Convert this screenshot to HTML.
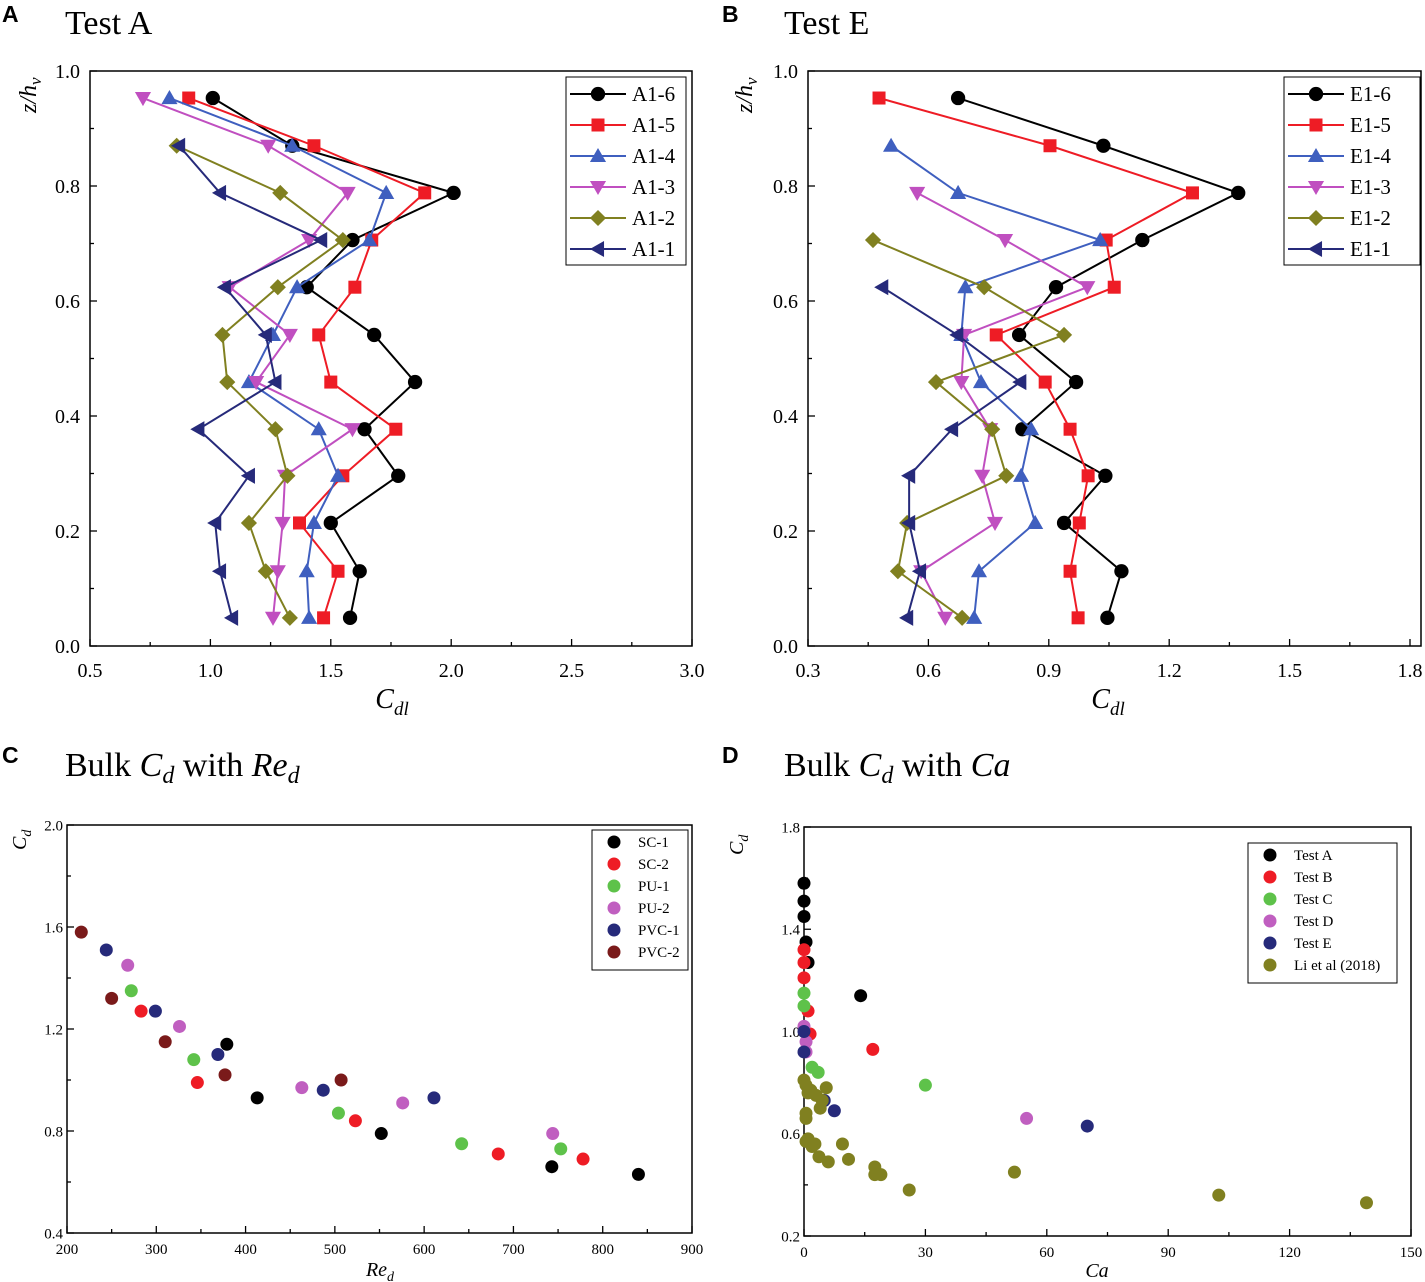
<!DOCTYPE html>
<html><head><meta charset="utf-8"><style>
body{margin:0;background:#fff}
svg{display:block}
text{font-family:"Liberation Serif",serif;fill:#000}
.pl{font-family:"Liberation Sans",sans-serif;font-weight:bold;font-size:23px}
</style></head><body>
<svg id="fig" width="1425" height="1282" viewBox="0 0 1425 1282">
<text class="pl" x="2" y="22">A</text>
<text x="65" y="34" font-size="34">Test A</text>
<text class="pl" x="722" y="22">B</text>
<text x="784" y="34" font-size="34">Test E</text>
<text class="pl" x="2" y="763">C</text>
<text x="65" y="776" font-size="34">Bulk <tspan font-style="italic">C<tspan font-size="24" dy="7">d</tspan></tspan><tspan dy="-7"> with </tspan><tspan font-style="italic">Re<tspan font-size="24" dy="7">d</tspan></tspan></text>
<text class="pl" x="722" y="763">D</text>
<text x="784" y="776" font-size="34">Bulk <tspan font-style="italic">C<tspan font-size="24" dy="7">d</tspan></tspan><tspan dy="-7"> with </tspan><tspan font-style="italic">Ca</tspan></text>
</svg>
<script>
// ---- Panel A data ----
const zLevels=[0.953,0.870,0.788,0.706,0.624,0.541,0.459,0.377,0.296,0.214,0.130,0.049];
const aNames=["A1-6","A1-5","A1-4","A1-3","A1-2","A1-1"];
const a16=[1.01,1.34,2.01,1.59,1.40,1.68,1.85,1.64,1.78,1.50,1.62,1.58];
const a15=[0.91,1.43,1.89,1.67,1.60,1.45,1.50,1.77,1.55,1.37,1.53,1.47];
const a14=[0.83,1.34,1.73,1.66,1.36,1.26,1.16,1.45,1.53,1.43,1.40,1.41];
const a13=[0.72,1.24,1.57,1.41,1.08,1.33,1.19,1.59,1.31,1.30,1.28,1.26];
const a12=[null,0.86,1.29,1.55,1.28,1.05,1.07,1.27,1.32,1.16,1.23,1.33];
const a11=[null,0.87,1.04,1.46,1.06,1.23,1.27,0.95,1.16,1.02,1.04,1.09];
// ---- Panel B data ----
const eNames=["E1-6","E1-5","E1-4","E1-3","E1-2","E1-1"];
const e16=[0.674,1.036,1.372,1.133,0.918,0.826,0.968,0.834,1.041,0.938,1.081,1.046];
const e15=[0.477,0.903,1.258,1.043,1.063,0.769,0.891,0.953,0.998,0.976,0.953,0.973];
const e14=[null,0.507,0.674,1.028,0.692,0.682,0.731,0.856,0.831,0.866,0.726,0.714];
const e13=[null,null,0.572,0.791,0.996,0.689,0.682,0.754,0.734,0.766,0.582,0.642];
const e12=[null,null,null,0.462,0.739,0.938,0.619,0.759,0.794,0.547,0.524,0.684];
const e11=[null,null,null,null,0.485,0.672,0.829,0.659,0.552,0.552,0.579,0.547];
// ---- Panel C data ----
const cNames=["SC-1","SC-2","PU-1","PU-2","PVC-1","PVC-2"];
const cSC1x=[379,413,552,743,840], cSC1y=[1.14,0.93,0.79,0.66,0.63];
const cSC2x=[346,283,523,683,778], cSC2y=[0.99,1.27,0.84,0.71,0.69];
const cPU1x=[272,342,504,642,753], cPU1y=[1.35,1.08,0.87,0.75,0.73];
const cPU2x=[268,326,463,576,744], cPU2y=[1.45,1.21,0.97,0.91,0.79];
const cPVC1x=[244,299,369,487,611], cPVC1y=[1.51,1.27,1.10,0.96,0.93];
const cPVC2x=[216,250,310,377,507], cPVC2y=[1.58,1.32,1.15,1.02,1.00];
// ---- Panel D data ----
const dNames=["Test A","Test B","Test C","Test D","Test E","Li et al (2018)"];
const dAx=[0,0,0,0.5,1,14], dAy=[1.58,1.51,1.45,1.35,1.27,1.14];
const dBx=[0,0,0,1,1.5,17], dBy=[1.32,1.27,1.21,1.08,0.99,0.93];
const dCx=[0,0,2,3.5,30], dCy=[1.15,1.10,0.86,0.84,0.79];
const dDx=[0,0.5,0.5,55], dDy=[1.02,0.96,0.92,0.66];
const dEx=[0,0,5,7.5,70], dEy=[1.0,0.92,0.73,0.69,0.63];
const dLx=[0,0.5,1,1.7,3,4.5,5.5,4,0.5,0.5,1,2,2.7,0.5,9.5,3.7,6,11,17.5,17.5,19,26,52,102.5,139];
const dLy=[0.81,0.79,0.76,0.77,0.75,0.73,0.78,0.70,0.68,0.66,0.58,0.55,0.56,0.57,0.56,0.51,0.49,0.50,0.47,0.44,0.44,0.38,0.45,0.36,0.33];

const NS="http://www.w3.org/2000/svg";
const svg=document.getElementById('fig');
function mk(tag,attrs,parent){const e=document.createElementNS(NS,tag);for(const k in attrs)e.setAttribute(k,attrs[k]);(parent||svg).appendChild(e);return e;}
function lin(d0,d1,p0,p1){return v=>p0+(v-d0)*(p1-p0)/(d1-d0);}
const lineCols=["#000000","#ee1c25","#3f5fbf","#c04fc0","#808020","#262a7a"];
const shapes=["circle","square","up","down","diamond","left"];
function marker(shape,x,y,s,col,g){
  let e;
  if(shape==="circle")e=mk('circle',{cx:x,cy:y,r:s*0.55,fill:col},g);
  else if(shape==="square")e=mk('rect',{x:x-s/2,y:y-s/2,width:s,height:s,fill:col},g);
  else{let p;const h=s*0.62;
    if(shape==="up")p=[[x,y-h],[x+h,y+h*0.75],[x-h,y+h*0.75]];
    if(shape==="down")p=[[x,y+h],[x+h,y-h*0.75],[x-h,y-h*0.75]];
    if(shape==="left")p=[[x-h,y],[x+h*0.75,y-h],[x+h*0.75,y+h]];
    if(shape==="diamond")p=[[x,y-h],[x+h,y],[x,y+h],[x-h,y]];
    e=mk('polygon',{points:p.map(q=>q.join(',')).join(' '),fill:col},g);}
  return e;
}
function frame(x0,x1,y0,y1,xt,yt,sx,sy,fs,xfmt,yfmt,xlabY,ylabX,name){
  const g=mk('g',{});
  
  
  mk('rect',{x:x0,y:y0,width:x1-x0,height:y1-y0,fill:'none',stroke:'#000','stroke-width':1.5},g);
  xt.forEach((v,i)=>{const x=sx(v);mk('line',{x1:x,x2:x,y1:y1,y2:y1-7,stroke:'#000','stroke-width':1.3},g);
    if(i<xt.length-1){const m=sx((v+xt[i+1])/2);mk('line',{x1:m,x2:m,y1:y1,y2:y1-4,stroke:'#000','stroke-width':1.3},g);}
    const t=mk('text',{x:x,y:xlabY,'font-size':fs,'text-anchor':'middle'},g);t.textContent=xfmt(v);
    
    });
  yt.forEach((v,i)=>{const y=sy(v);mk('line',{x1:x0,x2:x0+7,y1:y,y2:y,stroke:'#000','stroke-width':1.3},g);
    if(i<yt.length-1){const m=sy((v+yt[i+1])/2);mk('line',{x1:x0,x2:x0+4,y1:m,y2:m,stroke:'#000','stroke-width':1.3},g);}
    const t=mk('text',{x:ylabX,y:y+fs*0.35,'font-size':fs,'text-anchor':'end'},g);t.textContent=yfmt(v);
    
    });
}
// ---- Profile panels ----
function profile(opts){
  const sx=lin(opts.xd[0],opts.xd[1],opts.xp[0],opts.xp[1]);
  const sy=lin(0,1,646,71);
  frame(opts.xp[0]-(opts.xt[0]-opts.xd[0])*0,opts.frameR,71,646,opts.xt,[0,0.2,0.4,0.6,0.8,1.0],sx,sy,20,
    v=>v.toFixed(1),v=>v.toFixed(1),677,opts.xp[0]-10,opts.name);
  opts.series.forEach((s,k)=>{
    const g=mk('g',{});
    
    
    const pts=[];s.forEach((v,i)=>{if(v!=null)pts.push([sx(v),sy(zLevels[i])]);});
    mk('polyline',{points:pts.map(p=>p.join(',')).join(' '),fill:'none',stroke:lineCols[k],'stroke-width':2},g);
    pts.forEach(p=>marker(shapes[k],p[0],p[1],13,lineCols[k],g));
  });
  const lg=mk('g',{});
  
  
  mk('rect',{x:opts.lx,y:77,width:opts.lw,height:188,fill:'#fff',stroke:'#000','stroke-width':1},lg);
  opts.names.forEach((n,k)=>{const y=94+k*31;
    mk('line',{x1:opts.lx+4,x2:opts.lx+60,y1:y,y2:y,stroke:lineCols[k],'stroke-width':2},lg);
    marker(shapes[k],opts.lx+32,y,13,lineCols[k],lg);
    const t=mk('text',{x:opts.lx+66,y:y+7,'font-size':21},lg);t.textContent=n;});
  const xl=mk('text',{x:opts.cx,y:708,'font-size':28,'font-style':'italic','text-anchor':'middle'});
  xl.innerHTML='C<tspan font-size="19" dy="7">dl</tspan>';
  
  
  const yl=mk('text',{x:0,y:0,'font-size':24,'font-style':'italic',transform:`translate(${opts.yx},113) rotate(-90)`});
  yl.innerHTML='z/h<tspan font-size="17" dy="5">v</tspan>';
  
  
}
profile({name:'panel-a',xd:[0.5,3.0],xp:[90,692],frameR:692,xt:[0.5,1.0,1.5,2.0,2.5,3.0],series:[a16,a15,a14,a13,a12,a11],names:aNames,lx:566,lw:120,cx:392,yx:36});
profile({name:'panel-b',xd:[0.3,1.8],xp:[808,1410],frameR:1421,xt:[0.3,0.6,0.9,1.2,1.5,1.8],series:[e16,e15,e14,e13,e12,e11],names:eNames,lx:1284,lw:136,cx:1108,yx:752});
// ---- Scatter panels ----
function scatter(o){
  const sx=lin(o.xd[0],o.xd[1],o.xp[0],o.xp[1]);
  const sy=lin(o.yd[0],o.yd[1],o.yp[0],o.yp[1]);
  frame(o.xp[0],o.frameR,o.yp[1],o.yp[0],o.xt,o.yt,sx,sy,15,o.xf,v=>v.toFixed(1),o.yp[0]+21,o.xp[0]-4,o.name);
  o.sets.forEach((s,k)=>{
    const g=mk('g',{});
    
    
    s[0].forEach((v,i)=>mk('circle',{cx:sx(v),cy:sy(s[1][i]),r:6.5,fill:o.cols[k]},g));
  });
  const lg=mk('g',{});
  
  
  mk('rect',{x:o.lx,y:o.ly,width:o.lw,height:o.names.length*22+8,fill:'#fff',stroke:'#000','stroke-width':1},lg);
  o.names.forEach((n,k)=>{const y=o.ly+12+k*22;
    mk('circle',{cx:o.lx+22,cy:y,r:6.5,fill:o.cols[k]},lg);
    const t=mk('text',{x:o.lx+46,y:y+5,'font-size':15},lg);t.textContent=n;});
}
const sc=["#000000","#ee1c25","#5ec24a","#c05fc0","#262a7a","#7a1a1a"];
scatter({name:'panel-c',xd:[200,900],xp:[67,692],frameR:692,yd:[0.4,2.0],yp:[1233,825],xt:[200,300,400,500,600,700,800,900],yt:[0.4,0.8,1.2,1.6,2.0],xf:v=>String(v),
  sets:[[cSC1x,cSC1y],[cSC2x,cSC2y],[cPU1x,cPU1y],[cPU2x,cPU2y],[cPVC1x,cPVC1y],[cPVC2x,cPVC2y]],cols:sc,names:cNames,lx:592,ly:830,lw:96});
const dc=["#000000","#ee1c25","#5ec24a","#c05fc0","#262a7a","#808020"];
scatter({name:'panel-d',xd:[0,150],xp:[804,1411],frameR:1411,yd:[0.2,1.8],yp:[1236,827],xt:[0,30,60,90,120,150],yt:[0.2,0.6,1.0,1.4,1.8],xf:v=>String(v),
  sets:[[dAx,dAy],[dBx,dBy],[dCx,dCy],[dDx,dDy],[dEx,dEy],[dLx,dLy]],cols:dc,names:dNames,lx:1248,ly:843,lw:149});
// axis titles for C and D
let t=mk('text',{x:380,y:1276,'font-size':20,'font-style':'italic','text-anchor':'middle'});t.innerHTML='Re<tspan font-size="14" dy="5">d</tspan>';


t=mk('text',{x:0,y:0,'font-size':20,'font-style':'italic',transform:'translate(26,850) rotate(-90)'});t.innerHTML='C<tspan font-size="14" dy="5">d</tspan>';


t=mk('text',{x:1097,y:1277,'font-size':20,'font-style':'italic','text-anchor':'middle'});t.textContent='Ca';


t=mk('text',{x:0,y:0,'font-size':20,'font-style':'italic',transform:'translate(743,855) rotate(-90)'});t.innerHTML='C<tspan font-size="14" dy="5">d</tspan>';


</script>
</body></html>
